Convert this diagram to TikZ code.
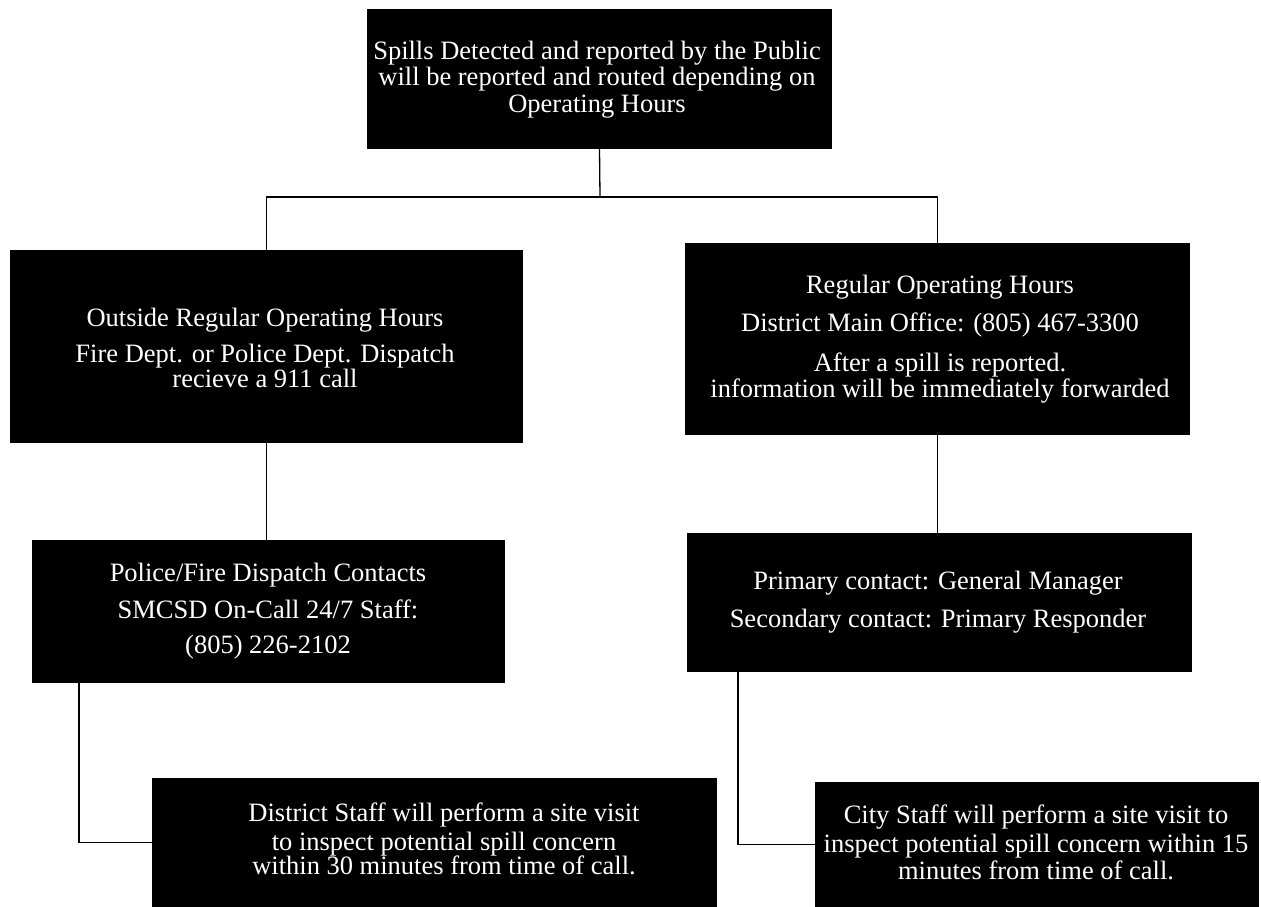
\documentclass[tikz,border=0pt]{standalone}
\usepackage{fontspec}
\setmainfont{Liberation Serif}
\usetikzlibrary{calc}
\tikzset{
  box/.style={draw=none, fill=black, inner sep=0pt, outer sep=0pt},
  txt/.style={text=white, align=center, inner sep=0pt, font=\fontsize{26.5}{24}\selectfont},
  conn/.style={draw=black, line width=1.3pt}
}
\begin{document}
\begin{tikzpicture}[x=1pt,y=-1pt]
\useasboundingbox[fill=white] (0,0) rectangle (1261,907);

% boxes
\node[box, minimum width=465pt, minimum height=140pt] (top) at (599.5,79) {};
\node[box, minimum width=513pt, minimum height=193pt] (left) at (266.5,346.5) {};
\node[box, minimum width=505pt, minimum height=192pt] (right) at (937.5,339) {};
\node[box, minimum width=473pt, minimum height=143pt] (left2) at (268.5,611.5) {};
\node[box, minimum width=505pt, minimum height=139pt] (right2) at (939.5,602.5) {};
\node[box, minimum width=565pt, minimum height=129pt] (left3) at (434.5,842.5) {};
\node[box, minimum width=444pt, minimum height=125pt] (right3) at (1037,844.5) {};

% texts
\node[txt] (toptxt) at (597,80) {Spills Detected and reported by the Public\\[1pt]will be reported and routed depending on\\[3pt]Operating Hours};
\node[txt] (lefttxt) at (265,348) {Outside Regular Operating Hours\\[11pt]Fire Dept. or Police Dept. Dispatch\\recieve a 911 call};
\node[txt] (righttxt) at (940,339) {Regular Operating Hours\\[13pt]District Main Office: (805) 467-3300\\[14pt]After a spill is reported.\\[1pt]information will be immediately forwarded};
\node[txt] (left2txt) at (268,611) {Police/Fire Dispatch Contacts\\[12pt]SMCSD On-Call 24/7 Staff:\\[11pt](805) 226-2102};
\node[txt] (right2txt) at (938,602) {Primary contact: General Manager\\[13pt]Secondary contact: Primary Responder};
\node[txt] (left3txt) at (444,839) {District Staff will perform a site visit\\[3pt]to inspect potential spill concern\\[-1pt]within 30 minutes from time of call.};
\node[txt] (right3txt) at (1036,842.5) {City Staff will perform a site visit to\\[3pt]inspect potential spill concern within 15\\[2pt]minutes from time of call.};

% connectors
\coordinate (j) at (600,197);
\draw[conn] (top.south) -- (j);
\draw[conn] (left.north) |- (j) -| (right.north);
\draw[conn] (left.south) -- (left.south |- left2.north);
\draw[conn] (right.south) -- (right.south |- right2.north);
\draw[conn] ($(left2.south west)+(47,0)$) |- (left3.west);
\draw[conn] ($(right2.south west)+(51,0)$) |- (right3.west);
\end{tikzpicture}
\end{document}
